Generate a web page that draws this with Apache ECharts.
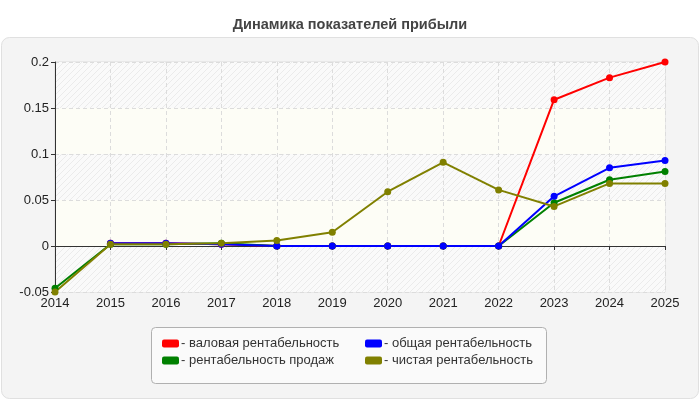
<!DOCTYPE html>
<html>
<head>
<meta charset="utf-8">
<script src="https://cdn.jsdelivr.net/npm/echarts@6/dist/echarts.min.js"></script>
<style>
html,body{margin:0;padding:0;background:#fff}
#chart{width:700px;height:400px}
</style>
</head>
<body>
<div id="chart"></div>
<script>
const years=["2014","2015","2016","2017","2018","2019","2020","2021","2022","2023","2024","2025"];
const gross=[null,0.003,0.003,0.002,0,0,0,0,0,0.159,0.183,0.2];
const sales=[-0.046,0.002,0.002,0.003,0,0,0,0,0,0.047,0.072,0.081];
const total=[null,0.003,0.003,0.002,0,0,0,0,0,0.054,0.085,0.093];
const net=[-0.05,0.002,0.002,0.003,0.006,0.015,0.059,0.091,0.061,0.043,0.068,0.068];
const names=["- валовая рентабельность","- общая рентабельность","- рентабельность продаж","- чистая рентабельность"];
const colors=["#ff0000","#0000ff","#008000","#808000"];

const font="Liberation Sans";

// hatched fill for every other band
const hatch=document.createElement("canvas");
hatch.width=hatch.height=6;
const g=hatch.getContext("2d");
g.fillStyle="#fafafa";g.fillRect(0,0,6,6);
g.strokeStyle="#ebebeb";g.lineWidth=1;
g.beginPath();g.moveTo(0,6);g.lineTo(6,0);g.moveTo(-3,3);g.lineTo(3,-3);g.moveTo(3,9);g.lineTo(9,3);g.stroke();

const chart=echarts.init(document.querySelector("#chart"));

const series=[
  {name:names[0],data:gross,color:colors[0]},
  {name:names[2],data:sales,color:colors[2]},
  {name:names[1],data:total,color:colors[1]},
  {name:names[3],data:net,color:colors[3]}
].map(s=>({
  type:"line",
  name:s.name,
  data:s.data,
  symbol:"circle",
  symbolSize:7,
  showSymbol:true,
  lineStyle:{width:2,color:s.color},
  itemStyle:{color:s.color},
  animation:false
}));

const legendBase={
  orient:"vertical",
  top:336,
  padding:0,
  itemWidth:17,
  itemHeight:8,
  itemGap:2,
  icon:"roundRect",
  textStyle:{fontFamily:font,fontSize:13,color:"#333",padding:[0,0,0,-3],lineHeight:15},
  selectedMode:false
};

chart.setOption({
  backgroundColor:"#fff",
  textStyle:{fontFamily:font},
  title:{
    text:"Динамика показателей прибыли",
    left:"center",
    top:12,
    textStyle:{fontFamily:font,fontSize:14.5,fontWeight:"bold",color:"#444"}
  },
  graphic:[
    {type:"rect",z:-10,shape:{x:1.5,y:37.5,width:697,height:361,r:8},style:{fill:"#f4f4f4",stroke:"#e0e0e0",lineWidth:1}},
    {type:"rect",z:-5,shape:{x:151.5,y:327.5,width:395,height:56,r:4},style:{fill:"#fafafa",stroke:"#b0b0b0",lineWidth:1}}
  ],
  legend:[
    Object.assign({left:162,data:[names[0],names[2]]},legendBase),
    Object.assign({left:365,data:[names[1],names[3]]},legendBase)
  ],
  grid:{left:55,right:35,top:62,bottom:108,show:true,borderColor:"#dcdcdc",borderWidth:1,backgroundColor:"transparent"},
  xAxis:{
    type:"category",
    data:years,
    boundaryGap:false,
    axisLine:{lineStyle:{color:"#333",width:1}},
    axisTick:{show:true,length:4,lineStyle:{color:"#333"}},
    axisLabel:{color:"#222",fontSize:13,fontFamily:font,margin:5},
    splitLine:{show:true,lineStyle:{color:"#dcdcdc",type:[4,3]}}
  },
  yAxis:{
    type:"value",
    min:-0.05,
    max:0.2,
    interval:0.05,
    axisLine:{show:true,lineStyle:{color:"#333",width:1}},
    axisTick:{show:true,length:4,lineStyle:{color:"#333"}},
    axisLabel:{color:"#222",fontSize:13,fontFamily:font,margin:6,formatter:v=>String(+v.toFixed(2))},
    splitLine:{show:true,lineStyle:{color:"#dcdcdc",type:[4,3]}},
    splitArea:{show:true,areaStyle:{color:[{image:hatch,repeat:"repeat"},"#fdfdf6"]}}
  },
  series
});
</script>
</body>
</html>
